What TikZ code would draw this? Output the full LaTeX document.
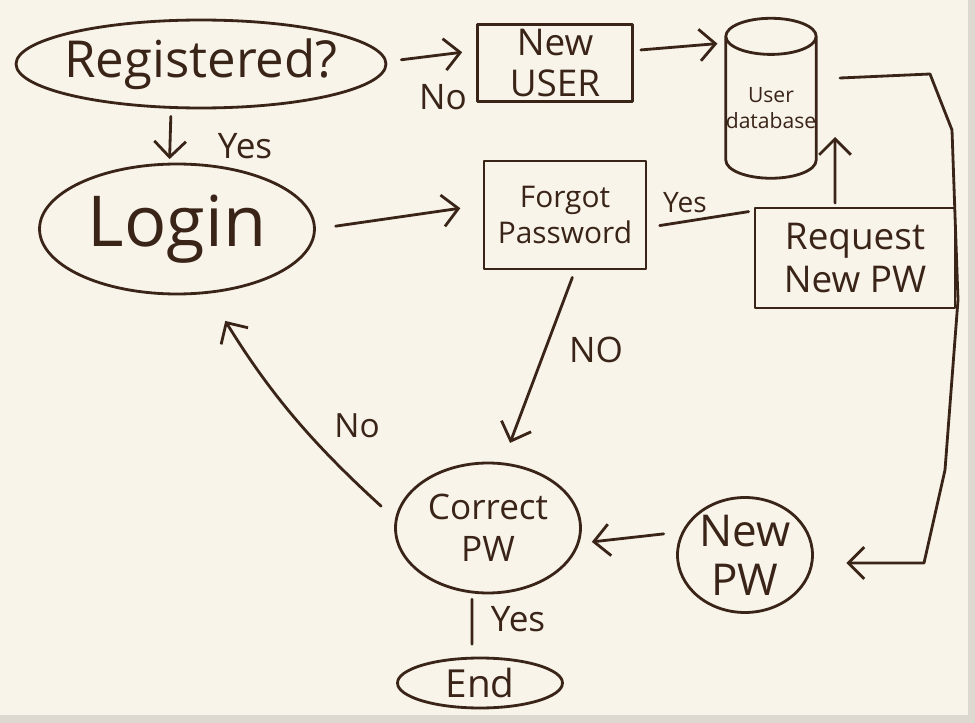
\documentclass[tikz,border=0pt]{standalone}
\usepackage{fontspec}
\setmainfont{Open Sans}
\usetikzlibrary{arrows.meta,shapes.geometric}
\definecolor{ink}{HTML}{3A2418}
\definecolor{board}{HTML}{F8F4EA}
\definecolor{frame}{HTML}{DDD9D1}
\tikzset{
  pen/.style={draw=ink, line width=1.6pt, line cap=round, line join=round},
  ovalnode/.style={pen, ellipse, inner sep=0pt, align=center, text=ink},
  boxnode/.style={pen, rectangle, inner sep=0pt, align=center, text=ink},
  arr/.style={pen, -{Straight Barb[length=9pt,width=18pt,line width=1.6pt]}},
  lbl/.style={text=ink, inner sep=0pt},
}
\begin{document}
\begin{tikzpicture}[x=0.02cm,y=-0.02cm]
\fill[board] (0,0) rectangle (975,723);
\fill[frame] (968,0) rectangle (975,723);
\fill[frame] (0,715) rectangle (975,723);
\useasboundingbox (0,0) rectangle (975,723);

% nodes
\node[ovalnode, minimum width=7.4cm, minimum height=1.76cm, font=\fontsize{29}{32}\selectfont] (reg) at (201,64) {\makebox[1cm][c]{Registered?}};
\node[boxnode, minimum width=3.1cm, minimum height=1.54cm, font=\fontsize{21}{23}\selectfont] (newuser) at (555,63) {New\\USER};
\node[pen, cylinder, shape border rotate=90, aspect=0.4, minimum width=1.74cm, minimum height=3.2cm, inner sep=0pt, align=center, text=ink, font=\fontsize{12}{15}\selectfont] (db) at (771,108) {User\\database};
\node[ovalnode, minimum width=5.5cm, minimum height=2.6cm, font=\fontsize{40}{42}\selectfont] (login) at (177,229) {\makebox[1cm][c]{Login}};
\node[boxnode, minimum width=3.24cm, minimum height=2.16cm, font=\fontsize{17}{21}\selectfont] (forgot) at (565,215) {Forgot\\Password};
\node[boxnode, minimum width=4.0cm, minimum height=2.0cm, font=\fontsize{21}{24}\selectfont] (request) at (855,258) {Request\\New PW};
\node[ovalnode, minimum width=3.7cm, minimum height=2.6cm, font=\fontsize{20}{24}\selectfont] (correct) at (488,528) {\makebox[1cm][c]{Correct}\\\makebox[1cm][c]{PW}};
\node[ovalnode, minimum width=2.7cm, minimum height=2.3cm, font=\fontsize{25}{28}\selectfont] (newpw) at (745,555) {\makebox[1cm][c]{New}\\\makebox[1cm][c]{PW}};
\node[ovalnode, minimum width=3.3cm, minimum height=1.0cm, font=\fontsize{22}{24}\selectfont] (end) at (480,683) {\makebox[1cm][c]{End}};

\coordinate (dbin) at (835,137);
\coordinate (c1) at (930,74);
\coordinate (c2) at (952,130);
\coordinate (c3) at (958,300);
\coordinate (c4) at (945,470);
\coordinate (c5) at (924,563);

% connectors
\draw[arr, shorten <=8pt, shorten >=8pt] ([yshift=0.05cm]reg.east) -- ([yshift=0.25cm]newuser.west);
\node[lbl, font=\fontsize{20}{22}\selectfont] (l1) at (443,97) {No};

\draw[arr, shorten <=4pt, shorten >=4pt] ([yshift=0.25cm]newuser.east) -- ([yshift=1.3cm]db.west);

\draw[arr, shorten <=4pt, shorten >=2pt] ([xshift=-0.6cm]reg.south) -- ([xshift=-0.15cm]login.north);
\node[lbl, font=\fontsize{20}{22}\selectfont] (l2) at (245,146) {Yes};

\draw[arr, shorten <=0.4cm, shorten >=0.45cm] (login.east) -- ([yshift=0.2cm]forgot.west);

\draw[pen, shorten <=0.25cm] ([yshift=-0.25cm]forgot.east) -- ([xshift=-0.1cm,yshift=-0.1cm]request.north west);
\node[lbl, font=\fontsize{16}{18}\selectfont] (l3) at (685,203) {Yes};

\draw[arr, shorten <=2pt] ([xshift=-0.4cm]request.north) -- (dbin);

\draw[arr, shorten >=0.65cm] ([xshift=0.45cm,yshift=0.6cm]db.east) -- (c1) -- (c2) -- (c3) -- (c4) -- (c5) -- (newpw.east |- c5);

\draw[arr, shorten <=0.25cm, shorten >=0.2cm] ([yshift=0.45cm]newpw.west) -- ([yshift=-0.3cm]correct.east);

\draw[arr, shorten <=0.15cm, shorten >=0.4cm] ([xshift=0.2cm]forgot.south) -- ([xshift=0.3cm]correct.north);
\node[lbl, font=\fontsize{20}{22}\selectfont] (l4) at (596,350) {NO};

\draw[arr, shorten <=0.35cm, shorten >=0.6cm] ([yshift=0.2cm]correct.west) to[bend left=8] ([xshift=0.65cm]login.south);
\node[lbl, font=\fontsize{19}{21}\selectfont] (l5) at (357,426) {No};

\draw[pen, shorten <=0.1cm, shorten >=0.25cm] ([xshift=-0.32cm]correct.south) -- ([xshift=-0.16cm]end.north);
\node[lbl, font=\fontsize{20}{22}\selectfont] (l6) at (518,619) {Yes};
\end{tikzpicture}
\end{document}
